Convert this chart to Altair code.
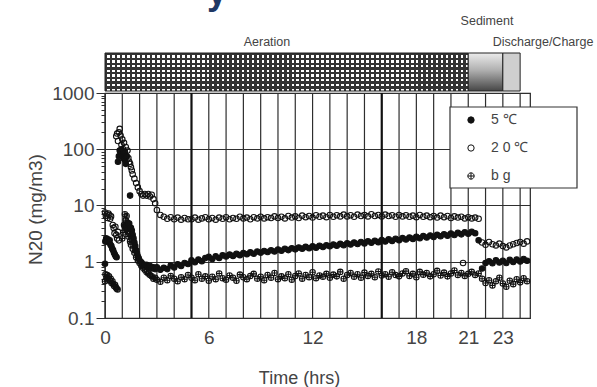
import altair as alt
import pandas as pd

# ------------------------------------------------------------------ data
SERIES = ["5 ℃", "2 0 ℃", "b g"]

# early, irregular samples (hours, mg/m3)
T_EARLY_5C = [0.00, 0.02, 0.07, 0.12, 0.17, 0.22, 0.27, 0.32, 0.37, 0.42, 0.47, 0.52, 0.57, 0.62, 0.67,
              0.75, 0.80, 0.85, 0.90, 0.95, 1.00, 1.05, 1.10, 1.15, 1.20, 1.25,
              1.15, 1.20, 1.25, 1.30, 1.35, 1.40, 1.45, 1.50, 1.55, 1.60, 1.65, 1.70, 1.75, 1.80, 1.85,
              1.90, 1.95, 2.00, 2.10, 2.20, 2.30, 2.40, 2.50, 2.60, 2.70, 2.80, 2.90]
V_EARLY_5C = [0.92, 2.3, 2.6, 2.4, 2.5, 2.2, 2.4, 2.0, 1.9, 1.7, 1.6, 1.45, 1.35, 1.25, 1.2,
              60, 75, 95, 85, 100, 80, 70, 90, 65, 55, 75,
              4.2, 4.6, 3.8, 5.0, 4.5, 4.8, 15, 4.0, 3.6, 3.0, 2.6, 2.2, 1.9, 1.6, 1.4,
              1.25, 1.15, 1.05, 0.98, 0.90, 0.85, 0.88, 0.80, 0.84, 0.76, 0.80, 0.74]

T_EARLY_20C = [0.00, 0.05, 0.10, 0.15, 0.20, 0.25, 0.30, 0.35, 0.45, 0.50, 0.55, 0.60, 0.65, 0.70, 0.75, 0.80,
               0.65, 0.70, 0.75, 0.80, 0.85, 0.90, 0.95, 1.00, 1.05, 1.10, 1.15, 1.20, 1.25, 1.30, 1.35,
               1.40, 1.45, 1.50, 1.55, 1.60, 1.70, 1.80, 1.90, 2.00, 2.10, 2.20, 2.30, 2.40, 2.50, 2.60,
               2.70, 2.80, 2.90, 20.70]
V_EARLY_20C = [7.5, 6.5, 7.0, 6.0, 7.2, 6.8, 5.8, 6.4, 4.5, 4.0, 3.2, 4.2, 3.0, 2.6, 3.4, 2.4,
               170, 190, 140, 200, 230, 175, 120, 150, 100, 130, 90, 110, 75, 95, 70,
               60, 55, 48, 42, 36, 30, 25, 21, 18, 16, 15, 16, 15, 16, 14.5,
               15.5, 13, 11, 0.95]

T_EARLY_BG = [0.00, 0.03, 0.08, 0.13, 0.18, 0.23, 0.28, 0.33, 0.38, 0.43, 0.48, 0.53, 0.58, 0.63, 0.68, 0.73,
              1.00, 1.05, 1.10, 1.15, 1.20, 1.25, 1.30, 1.35, 1.40, 1.45, 1.50, 1.55, 1.60,
              1.70, 1.80, 1.90, 2.00, 2.10, 2.20, 2.30, 2.40, 2.50, 2.60, 2.70, 2.80, 2.90]
V_EARLY_BG = [0.45, 0.60, 0.52, 0.58, 0.48, 0.55, 0.46, 0.50, 0.42, 0.45, 0.40, 0.37, 0.39, 0.35, 0.33, 0.32,
              2.6, 3.3, 4.5, 7.0, 5.5, 6.5, 3.5, 2.8, 3.2, 2.3, 2.0, 2.6, 1.7,
              1.45, 1.2, 1.05, 0.95, 0.85, 0.78, 0.72, 0.66, 0.62, 0.58, 0.55, 0.50, 0.52]

# regular logging from 3.0 h to 24.4 h, one reading every 0.2 h
T_MAIN = [round(3.0 + 0.2 * i, 1) for i in range(108)]
V_MAIN_5C = [0.80, 0.72, 0.78, 0.74, 0.86, 0.79, 0.90, 0.84, 0.95, 0.91,
             1.06, 0.98, 1.10, 1.02, 1.16, 1.22, 1.12, 1.25, 1.17, 1.30,
             1.24, 1.34, 1.27, 1.38, 1.31, 1.43, 1.36, 1.47, 1.39, 1.52,
             1.45, 1.55, 1.49, 1.60, 1.52, 1.65, 1.57, 1.70, 1.61, 1.74,
             1.66, 1.79, 1.71, 1.84, 1.74, 1.88, 1.78, 1.93, 1.83, 1.97,
             1.88, 2.03, 1.92, 2.08, 1.97, 2.14, 2.02, 2.19, 2.07, 2.25,
             2.12, 2.31, 2.18, 2.37, 2.23, 2.44, 2.29, 2.50, 2.35, 2.57,
             2.41, 2.63, 2.48, 2.70, 2.55, 2.78, 2.62, 2.86, 2.69, 2.93,
             2.76, 3.01, 2.84, 3.09, 2.91, 3.18, 2.99, 3.26, 3.07, 3.34,
             3.15, 3.40, 3.22, 2.40,
             0.76, 0.95, 1.02, 0.94, 1.06, 0.97, 1.04, 0.95, 1.08, 0.99, 1.10, 1.01, 1.12, 1.04]
V_MAIN_20C = [8.3, 6.8, 6.3, 5.8, 6.2, 5.7, 6.1, 5.6, 6.0, 5.7,
              5.7, 6.1, 5.6, 5.9, 6.2, 5.7, 6.0, 5.6, 6.1, 5.8,
              6.2, 5.7, 6.0, 5.8, 6.3, 5.9, 6.1, 5.7, 6.2, 5.9,
              6.3, 5.9, 6.2, 6.0, 6.4, 6.0, 6.3, 5.9, 6.5, 6.1,
              6.4, 6.0, 6.6, 6.2, 6.5, 6.1, 6.7, 6.3, 6.6, 6.2,
              6.8, 6.3, 6.7, 6.4, 6.9, 6.4, 6.7, 6.3, 6.9, 6.5,
              6.8, 6.4, 7.0, 6.5, 6.8, 6.4, 6.9, 6.5, 6.7, 6.3,
              6.8, 6.4, 6.7, 6.3, 6.6, 6.2, 6.8, 6.3, 6.6, 6.2,
              6.5, 6.1, 6.6, 6.2, 6.5, 6.0, 6.4, 6.1, 6.3, 5.9,
              6.2, 5.9, 6.1, 5.8,
              2.2, 2.0, 2.25, 2.05, 1.95, 2.1, 1.9, 1.8, 1.95, 2.05, 2.15, 2.25, 2.1, 2.3]
V_MAIN_BG = [0.48, 0.44, 0.52, 0.47, 0.56, 0.50, 0.45, 0.53, 0.49, 0.58,
             0.52, 0.47, 0.60, 0.50, 0.55, 0.46, 0.54, 0.49, 0.62, 0.51,
             0.48, 0.57, 0.52, 0.46, 0.59, 0.53, 0.49, 0.56, 0.61, 0.50,
             0.54, 0.47, 0.58, 0.52, 0.63, 0.49, 0.55, 0.51, 0.60, 0.48,
             0.56, 0.62, 0.50, 0.58, 0.53, 0.65, 0.51, 0.57, 0.54, 0.61,
             0.52, 0.59, 0.55, 0.66, 0.50, 0.58, 0.63, 0.54, 0.60, 0.52,
             0.64, 0.56, 0.61, 0.53, 0.67, 0.57, 0.60, 0.54, 0.65, 0.58,
             0.55, 0.62, 0.68, 0.56, 0.61, 0.53, 0.66, 0.59, 0.63, 0.55,
             0.60, 0.69, 0.57, 0.64, 0.55, 0.62, 0.70, 0.58, 0.63, 0.56,
             0.61, 0.66, 0.58, 0.62,
             0.50, 0.42, 0.47, 0.38, 0.45, 0.52, 0.41, 0.36, 0.46, 0.40, 0.49, 0.43, 0.51, 0.45]

PHASES = ["Aeration", "Sediment", "Discharge/Charge"]
PHASE_START = [0, 21, 23]
PHASE_END = [21, 23, 24]

X_LABELLED = [0, 6, 12, 18, 21, 23]
X_GRID = [h for h in range(0, 25) if h not in (5, 16)]
X_HEAVY = [5, 16]
Y_DECADES = [0.1, 1, 10, 100, 1000]
Y_MINOR = [0.2, 0.3, 0.4, 0.5, 0.6, 0.7, 0.8, 0.9,
           2, 3, 4, 5, 6, 7, 8, 9,
           20, 30, 40, 50, 60, 70, 80, 90,
           200, 300, 400, 500, 600, 700, 800, 900]

# ------------------------------------------------------------------ tables
pairs = [
    (SERIES[1], T_EARLY_20C, V_EARLY_20C), (SERIES[1], T_MAIN, V_MAIN_20C),
    (SERIES[2], T_EARLY_BG, V_EARLY_BG), (SERIES[2], T_MAIN, V_MAIN_BG),
    (SERIES[0], T_EARLY_5C, V_EARLY_5C), (SERIES[0], T_MAIN, V_MAIN_5C),
]
rows = []
for name, ts, vs in pairs:
    assert len(ts) == len(vs), (name, len(ts), len(vs))
    for t, v in zip(ts, vs):
        rows.append({"series": name, "t": t, "v": v})
df = pd.DataFrame(rows)
phase_df = pd.DataFrame({"phase": PHASES, "start": PHASE_START, "end": PHASE_END})
grid_df = pd.DataFrame({"h": X_GRID})
heavy_df = pd.DataFrame({"h": X_HEAVY})
one = pd.DataFrame({"k": [0]})

# ------------------------------------------------------------------ styling
FONT = "Liberation Sans"
TXT = "#444444"
GRID = "#2e2e2e"
BG_PATH = "M-1,0A1,1,0,1,0,1,0A1,1,0,1,0,-1,0Z M0,-1L0,1 M-1,0L1,0"
XTITLE = "Time (hrs)"
HOLLOW = "rgba(255,255,255,0)"

x_scale = alt.Scale(domain=[0, 24.57], nice=False, zero=False)
y_scale = alt.Scale(type="log", domain=[0.1, 1000], nice=False)

dec_test = "indexof(%s, datum.value) >= 0" % str(Y_DECADES)

x_axis = alt.Axis(
    values=X_LABELLED, grid=False, ticks=False, domain=False,
    labelFlush=False, labelOverlap=False, labelBound=False,
    labelFont=FONT, labelFontSize=19, labelColor=TXT, labelPadding=10,
    title=XTITLE, titleFont=FONT, titleFontSize=18, titleFontWeight="normal",
    titleColor=TXT, titleX=194, titleY=65, titleAlign="center", titleBaseline="alphabetic",
)
y_axis = alt.Axis(
    values=Y_DECADES + Y_MINOR, format="~g",
    labelExpr=dec_test + " ? datum.label : ''",
    grid=True, gridColor=GRID, gridWidth=1.2,
    gridOpacity={"condition": {"test": dec_test, "value": 1}, "value": 0},
    ticks=True, tickColor=GRID, tickWidth=1,
    tickSize={"condition": {"test": dec_test, "value": 9}, "value": 4},
    domain=False, labelFlush=False, labelOverlap=False, labelBound=False,
    labelFont=FONT, labelFontSize=19, labelColor=TXT, labelPadding=2,
    title="N20 (mg/m3)", titleFont=FONT, titleFontSize=19, titleFontWeight="normal",
    titleColor=TXT, titleAngle=270, titleX=-70, titleY=116, titleAlign="center",
    titleBaseline="middle",
)
legend = alt.Legend(
    orient="none", legendX=359, legendY=20, title=None, padding=0,
    labelFont=FONT, labelFontSize=14, labelColor=TXT, labelOffset=13, rowPadding=14,
    symbolSize=40, symbolStrokeWidth=1,
)

grid_rules = alt.Chart(grid_df).mark_rule(color=GRID, strokeWidth=1.2).encode(
    x=alt.X("h:Q", scale=x_scale, title=XTITLE))
heavy_rules = alt.Chart(heavy_df).mark_rule(color="#111111", strokeWidth=2.2).encode(
    x=alt.X("h:Q", scale=x_scale, title=XTITLE))

points = alt.Chart(df).mark_point(filled=True, size=30, strokeWidth=1.1, opacity=1).encode(
    x=alt.X("t:Q", scale=x_scale, axis=x_axis, title=XTITLE),
    y=alt.Y("v:Q", scale=y_scale, axis=y_axis),
    shape=alt.Shape("series:N", scale=alt.Scale(domain=SERIES, range=["circle", "circle", BG_PATH]), legend=legend),
    fill=alt.Fill("series:N", scale=alt.Scale(domain=SERIES, range=["#111111", HOLLOW, HOLLOW]), legend=legend),
    stroke=alt.Stroke("series:N", scale=alt.Scale(domain=SERIES, range=["#111111", "#111111", "#111111"]), legend=legend),
)


def stripes(n, vertical, dark="#333333", frac=0.48):
    clear = "rgba(51,51,51,0)"
    stops = []
    for i in range(n):
        a, b, c = i / n, (i + frac) / n, (i + 1) / n
        stops += [{"offset": a, "color": dark}, {"offset": b, "color": dark},
                  {"offset": b, "color": clear}, {"offset": c, "color": clear}]
    if vertical:
        return {"gradient": "linear", "x1": 0, "y1": 0, "x2": 1, "y2": 0, "stops": stops}
    return {"gradient": "linear", "x1": 0, "y1": 0, "x2": 0, "y2": 1, "stops": stops}


BAR_TOP, BAR_BOT = -40, -2


def phase_rect(name, fill, stroke=None):
    kw = {"fill": fill}
    if stroke:
        kw.update(stroke=stroke, strokeWidth=1)
    else:
        kw.update(strokeWidth=0)
    return alt.Chart(phase_df).transform_filter(alt.datum.phase == name).mark_rect(**kw).encode(
        x=alt.X("start:Q", scale=x_scale, title=XTITLE), x2="end:Q",
        y=alt.value(BAR_TOP), y2=alt.value(BAR_BOT))


aer_base = phase_rect("Aeration", "#ffffff")
aer_v = phase_rect("Aeration", stripes(73, True))
aer_h = phase_rect("Aeration", stripes(8, False))
aer_frame = phase_rect("Aeration", "rgba(0,0,0,0)", "#222222")
sed = phase_rect("Sediment", {"gradient": "linear", "x1": 0, "y1": 0, "x2": 0, "y2": 1,
                              "stops": [{"offset": 0, "color": "#ececec"}, {"offset": 0.45, "color": "#b0b0b0"},
                                        {"offset": 1, "color": "#464646"}]}, "#222222")
dis = phase_rect("Discharge/Charge", "#cfcfcf", "#222222")


def phase_text(name, px, py, size=12.5):
    return alt.Chart(phase_df).transform_filter(alt.datum.phase == name).mark_text(
        font=FONT, fontSize=size, color=TXT, align="center", baseline="middle").encode(
        text="phase:N", x=alt.value(px), y=alt.value(py))


t_aer = phase_text("Aeration", 162, -51)
t_sed = phase_text("Sediment", 382, -72)
t_dis = phase_text("Discharge/Charge", 438, -51)

legend_box = alt.Chart(one).mark_rect(fill="#ffffff", stroke="#333333", strokeWidth=1.2).encode(
    x=alt.value(345), x2=alt.value(472), y=alt.value(14), y2=alt.value(95))

slide_title = alt.Chart(one).mark_text(
    text="y", font=FONT, fontSize=36, fontWeight="bold", color="#1f3864", align="center",
    baseline="alphabetic").encode(x=alt.value(112), y=alt.value(-89))

chart = alt.layer(
    grid_rules, heavy_rules, points, aer_base, aer_v, aer_h, aer_frame, sed, dis,
    t_aer, t_sed, t_dis, legend_box, slide_title
).properties(
    width=425, height=225,
    padding={"left": 105, "top": 93, "right": 67, "bottom": 69},
    autosize=alt.AutoSizeParams(type="none"),
    background="#ffffff",
).configure_view(stroke="#222222", strokeWidth=1.2)

chart.save("out.html", embed_options={"renderer": "svg", "actions": False})
